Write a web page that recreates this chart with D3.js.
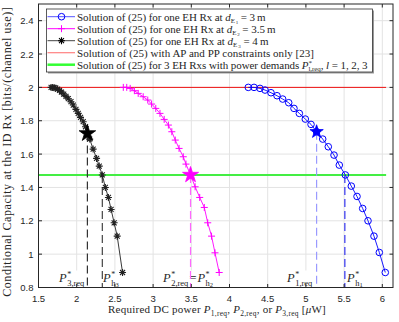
<!DOCTYPE html>
<html>
<head>
<meta charset="utf-8">
<script src="https://cdn.jsdelivr.net/npm/d3@7"></script>
<style>
  body { margin: 0; background: #fff; }
  svg { display: block; }
  .tick-lbl { font-family: "Liberation Sans", Arial, sans-serif; font-size: 9.5px; fill: #262626; }
  .serif { font-family: "Liberation Serif", "DejaVu Serif", serif; fill: #262626; }
</style>
</head>
<body>
<div id="chart"></div>
<script>
// ---- data ----
// d_E1 = 3 m (blue circles)
const blueX = [4.246, 4.321, 4.399, 4.465, 4.543, 4.622, 4.696, 4.775, 4.844, 4.914, 4.992, 5.067, 5.14, 5.22, 5.293, 5.368, 5.437, 5.516, 5.594, 5.669, 5.743, 5.813, 5.891, 5.961, 6.039];
const blueY = [2.0, 2.0, 1.994, 1.984, 1.968, 1.95, 1.93, 1.908, 1.874, 1.844, 1.81, 1.778, 1.734, 1.69, 1.644, 1.594, 1.534, 1.475, 1.408, 1.346, 1.274, 1.2, 1.108, 1.01, 0.89];
// d_E2 = 3.5 m (magenta plus)
const magX = [2.61, 2.655, 2.70, 2.755, 2.805, 2.87, 2.93, 2.98, 3.035, 3.09, 3.145, 3.20, 3.245, 3.29, 3.34, 3.395, 3.43, 3.49, 3.55, 3.61, 3.67, 3.715, 3.765, 3.81, 3.865];
const magY = [2.0, 2.0, 1.994, 1.98, 1.964, 1.944, 1.924, 1.90, 1.874, 1.844, 1.808, 1.774, 1.734, 1.684, 1.634, 1.584, 1.54, 1.475, 1.404, 1.34, 1.28, 1.188, 1.108, 1.008, 0.89];
// d_E3 = 4 m (black asterisk)
const blkX = [1.665, 1.685, 1.705, 1.725, 1.75, 1.775, 1.80, 1.83, 1.86, 1.89, 1.925, 1.955, 1.99, 2.02, 2.05, 2.085, 2.115, 2.17, 2.215, 2.26, 2.295, 2.335, 2.375, 2.415, 2.45, 2.49, 2.53, 2.60];
const blkY = [2.0, 2.0, 1.998, 1.995, 1.99, 1.982, 1.972, 1.96, 1.946, 1.932, 1.914, 1.894, 1.868, 1.844, 1.82, 1.794, 1.764, 1.69, 1.63, 1.574, 1.528, 1.475, 1.40, 1.34, 1.268, 1.188, 1.108, 0.89];

// optimum points (big stars) and harvest points on the green line
const starX = [5.14, 3.49, 2.14];
const starY = [1.734, 1.475, 1.724];
const harvX = [5.51, 3.49, 2.335];
const ppOnlyY = 2.0;      // red line
const demandY = 1.475;    // green line
const hLineX = [1.5, 6.05];

const xTicks = [1.5, 2, 2.5, 3, 3.5, 4, 4.5, 5, 5.5, 6];
const yTicks = [0.8, 1, 1.2, 1.4, 1.6, 1.8, 2, 2.2, 2.4];

// ---- layout ----
const W = 399, H = 322;
const margin = {top: 4, right: 6, bottom: 34.5, left: 38.5};
const iw = W - margin.left - margin.right;
const ih = H - margin.top - margin.bottom;

const svg = d3.select("#chart").append("svg")
    .attr("width", W)
    .attr("height", H);

const x = d3.scaleLinear().domain([1.5, 6.14]).range([margin.left, margin.left + iw]);
const y = d3.scaleLinear().domain([0.8, 2.5]).range([margin.top + ih, margin.top]);

const plot = svg.append("g");

// grid
plot.append("g").selectAll("line").data(xTicks).enter().append("line")
    .attr("x1", d => x(d)).attr("x2", d => x(d))
    .attr("y1", y(0.8)).attr("y2", y(2.5))
    .attr("stroke", "#e3e3e3").attr("stroke-width", 1);
plot.append("g").selectAll("line").data(yTicks).enter().append("line")
    .attr("x1", x(1.5)).attr("x2", x(6.14))
    .attr("y1", d => y(d)).attr("y2", d => y(d))
    .attr("stroke", "#e3e3e3").attr("stroke-width", 1);

// horizontal reference lines
plot.append("line")
    .attr("x1", x(hLineX[0])).attr("x2", x(hLineX[1]))
    .attr("y1", y(ppOnlyY)).attr("y2", y(ppOnlyY))
    .attr("stroke", "#ee1111").attr("stroke-width", 1);
plot.append("line")
    .attr("x1", x(hLineX[0])).attr("x2", x(hLineX[1]))
    .attr("y1", y(demandY)).attr("y2", y(demandY))
    .attr("stroke", "#44ee44").attr("stroke-width", 2);

// annotation labels (with white backing, drawn under the dashed lines)
function pLabel(g, px, py, parts) {
    let t = g.append("text").attr("class", "serif").attr("x", px).attr("y", py)
        .style("font-size", "12.5px");
    parts.forEach(p => {
        let s = t.append("tspan").text(p.t);
        if (p.it) s.style("font-style", "italic");
        if (p.fs) s.style("font-size", p.fs + "px");
        if (p.dx) s.attr("dx", p.dx);
        if (p.dy) s.attr("dy", p.dy);
    });
    return t;
}
const ann = plot.append("g");
function star(sub) { return [{t: "P", it: true}, {t: "*", fs: 8, dy: -5, dx: 0.5}, {t: sub, fs: 8.5, dy: 9, dx: -4}]; }
function starH(n) { return [{t: "P", it: true}, {t: "*", fs: 8, dy: -5, dx: 0.5}, {t: "h", fs: 8.5, dy: 9, dx: -4}, {t: n, fs: 6.5, dy: 1.5}]; }

const labels = [
    {x: 59, parts: star("3,req")},
    {x: 103, parts: starH("3")},
    {x: 163, parts: star("2,req").concat([{t: "=", dy: -4, dx: 1}, {t: "P", it: true, dx: 1}, {t: "*", fs: 8, dy: -5, dx: 0.5}, {t: "h", fs: 8.5, dy: 9, dx: -4}, {t: "2", fs: 6.5, dy: 1.5}])},
    {x: 287, parts: star("1,req")},
    {x: 347, parts: starH("1")}
];
labels.forEach(l => {
    let t = pLabel(ann, l.x, 281.5, l.parts);
    let bb = t.node().getBBox();
    ann.insert("rect", "text").attr("x", bb.x).attr("y", bb.y + 1).attr("width", bb.width).attr("height", bb.height - 1)
        .attr("fill", "#fff");
});

// dashed drop lines
const dropStar = ["#9a9aff", "#ff66ff", "#333"];
const dropHarv = ["#2222ee", "#ff66ff", "#333"];
starX.forEach((d, i) => {
    plot.append("line")
        .attr("x1", x(d)).attr("x2", x(d))
        .attr("y1", y(starY[i])).attr("y2", y(0.8))
        .attr("stroke", dropStar[i]).attr("stroke-width", 1.2)
        .attr("stroke-dasharray", "8,4");
});
harvX.forEach((d, i) => {
    if (i === 1) return;
    plot.append("line")
        .attr("x1", x(d)).attr("x2", x(d))
        .attr("y1", y(demandY)).attr("y2", y(0.8))
        .attr("stroke", dropHarv[i]).attr("stroke-width", 1.1)
        .attr("stroke-dasharray", "8,4");
});

// curves
const line = d3.line().x(d => x(d[0])).y(d => y(d[1]));
const curves = [
    {xs: blueX, ys: blueY, c: "#0000ff", m: "o"},
    {xs: magX, ys: magY, c: "#ff00ff", m: "+"},
    {xs: blkX, ys: blkY, c: "#222", m: "*"}
];
const plusPath = "M-3.5,0H3.5M0,-3.5V3.5";
const astPath = "M-3.5,0H3.5M0,-3.5V3.5M-2.5,-2.5L2.5,2.5M-2.5,2.5L2.5,-2.5";
function marker(g, m, c) {
    if (m === "o") {
        g.append("circle").attr("r", 3.3).attr("fill", "none").attr("stroke", c).attr("stroke-width", 1);
    } else {
        g.append("path").attr("d", m === "+" ? plusPath : astPath).attr("fill", "none").attr("stroke", c)
            .attr("stroke-width", m === "+" ? 1 : 1.1);
    }
}
curves.forEach(cv => {
    let pts = cv.xs.map((d, i) => [d, cv.ys[i]]);
    plot.append("path").datum(pts).attr("d", line)
        .attr("fill", "none").attr("stroke", cv.c).attr("stroke-width", 0.9);
    pts.forEach(p => {
        let g = plot.append("g").attr("transform", `translate(${x(p[0])},${y(p[1])})`);
        marker(g, cv.m, cv.c);
    });
});

// big stars
const starCol = ["#0000ff", "#ff00ff", "#000"];
const starSize = [55, 80, 85];
starX.forEach((d, i) => {
    plot.append("path")
        .attr("d", d3.symbol().type(d3.symbolStar).size(starSize[i]))
        .attr("transform", `translate(${x(d)},${y(starY[i])})`)
        .attr("fill", starCol[i]).attr("stroke", starCol[i]).attr("stroke-width", 0.8);
});

// axes box + ticks inside on all sides
const ax = svg.append("g");
ax.append("rect")
    .attr("x", x(1.5)).attr("y", y(2.5))
    .attr("width", x(6.14) - x(1.5)).attr("height", y(0.8) - y(2.5))
    .attr("fill", "none").attr("stroke", "#262626").attr("stroke-width", 1);
xTicks.forEach(t => {
    ax.append("line").attr("x1", x(t)).attr("x2", x(t)).attr("y1", y(0.8)).attr("y2", y(0.8) - 3.5).attr("stroke", "#262626");
    ax.append("line").attr("x1", x(t)).attr("x2", x(t)).attr("y1", y(2.5)).attr("y2", y(2.5) + 3.5).attr("stroke", "#262626");
    ax.append("text").attr("class", "tick-lbl").attr("x", x(t)).attr("y", y(0.8) + 14)
        .attr("text-anchor", "middle").text(t);
});
yTicks.forEach(t => {
    ax.append("line").attr("x1", x(1.5)).attr("x2", x(1.5) + 3.5).attr("y1", y(t)).attr("y2", y(t)).attr("stroke", "#262626");
    ax.append("line").attr("x1", x(6.14)).attr("x2", x(6.14) - 3.5).attr("y1", y(t)).attr("y2", y(t)).attr("stroke", "#262626");
    ax.append("text").attr("class", "tick-lbl").attr("x", x(1.5) - 5).attr("y", y(t) + 3.5)
        .attr("text-anchor", "end").text(t);
});

// axis titles
const xl = svg.append("text").attr("class", "serif").attr("x", 217).attr("y", 313)
    .attr("text-anchor", "middle").style("font-size", "11px").style("letter-spacing", "0.25px");
xl.append("tspan").text("Required DC power ");
[["1", ", "], ["2", ", or "], ["3", " "]].forEach(s => {
    xl.append("tspan").style("font-style", "italic").text("P");
    xl.append("tspan").style("font-size", "7.5px").attr("dy", 2.5).text(s[0] + ",req");
    xl.append("tspan").attr("dy", -2.5).text(s[1]);
});
xl.append("tspan").text("[");
xl.append("tspan").style("font-style", "italic").text("μ");
xl.append("tspan").text("W]");

svg.append("text").attr("class", "serif")
    .attr("transform", `translate(10.5,${(y(0.8) + y(2.5)) / 2 + 6}) rotate(-90)`)
    .attr("text-anchor", "middle").style("font-size", "12px").style("letter-spacing", "0.55px")
    .text("Conditional Capacity at the ID Rx [bits/(channel use)]");

// legend
const lg = svg.append("g");
const lgX = 46.5, lgY = 9, lgW = 326, lgH = 63;
lg.append("rect").attr("x", lgX + 1.5).attr("y", lgY + 1.5).attr("width", lgW).attr("height", lgH).attr("fill", "#999");
lg.append("rect").attr("x", lgX).attr("y", lgY).attr("width", lgW).attr("height", lgH)
    .attr("fill", "#fff").attr("stroke", "#333").attr("stroke-width", 0.8);

// target text widths (px) of each legend row, as seen in the figure
const legendWidths = [189, 199, 192, 237, 291];
const legendItems = [
    {c: "#5555ff", m: "o", mc: "#0000ff", w: 1, d: ["1", "3"]},
    {c: "#ff00ff", m: "+", mc: "#ff00ff", w: 1, d: ["2", "3.5"]},
    {c: "#444", m: "*", mc: "#000", w: 1, d: ["3", "4"]},
    {c: "#ff8080", m: null, w: 1.2, txt: "Solution of (25) with AP and PP constraints only [23]"},
    {c: "#33ff33", m: null, w: 2.5, txt: null}
];
legendItems.forEach((it, i) => {
    let cy = 16.7 + i * 12;
    lg.append("line").attr("x1", 47.5).attr("x2", 75).attr("y1", cy).attr("y2", cy)
        .attr("stroke", it.c).attr("stroke-width", it.w);
    if (it.m) marker(lg.append("g").attr("transform", `translate(61.5,${cy})`), it.m, it.mc);
    let t = lg.append("text").attr("class", "serif").attr("x", 77).attr("y", cy + 3.8)
        .style("font-size", "11px");
    if (it.d) {
        t.append("tspan").text("Solution of (25) for one EH Rx at ");
        t.append("tspan").style("font-style", "italic").text("d");
        t.append("tspan").style("font-size", "7px").attr("dy", 2).text("E");
        t.append("tspan").style("font-size", "5px").attr("dy", 1.3).attr("dx", 0.8).text(it.d[0]);
        t.append("tspan").attr("dy", -3.3).text(" = " + it.d[1] + "\u2009m");
    } else if (it.txt) {
        t.text(it.txt);
    } else {
        t.append("tspan").text("Solution of (25) for 3 EH Rxs with power demands ");
        t.append("tspan").style("font-style", "italic").text("P");
        t.append("tspan").style("font-size", "7px").attr("dy", -4).text("*");
        t.append("tspan").style("font-size", "7px").attr("dy", 6.5).attr("dx", -3.5).text("l,req");
        t.append("tspan").attr("dy", -2.5).text(", ");
        t.append("tspan").style("font-style", "italic").text("l");
        t.append("tspan").text(" = 1, 2, 3");
    }
    // stretch spacing so the row spans the same width as in the figure
    let w0 = t.node().getBBox().width;
    let n = t.text().length;
    let ls = Math.max(-0.3, Math.min(0.8, (legendWidths[i] - w0) / n));
    t.style("letter-spacing", ls + "px");
});
</script>
</body>
</html>
